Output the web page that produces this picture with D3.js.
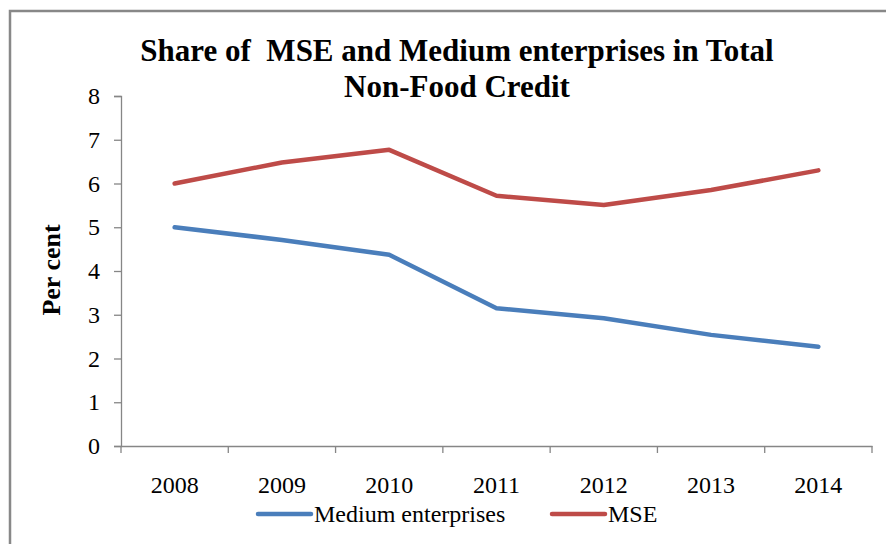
<!DOCTYPE html>
<html>
<head>
<meta charset="utf-8">
<script src="https://cdn.jsdelivr.net/npm/d3@7"></script>
<style>
  body { margin:0; background:#fff; }
  svg text { font-family: "Liberation Serif", "DejaVu Serif", serif; fill:#000; white-space: pre; }
</style>
</head>
<body>
<div id="chart"></div>
<script>
// data
var years = ['2008','2009','2010','2011','2012','2013','2014'];
var medium = [5.00, 4.71, 4.37, 3.15, 2.92, 2.54, 2.27];
var mse = [6.00, 6.48, 6.77, 5.72, 5.51, 5.85, 6.30];
var yTicks = [0,1,2,3,4,5,6,7,8];
var seriesNames = ['Medium enterprises', 'MSE'];
var seriesColors = ['#4a7ebb', '#be4b48'];

var W = 886, H = 544;
var margin = {top:96, right:14, bottom:98, left:121};
var width = W - margin.left - margin.right,
    height = H - margin.top - margin.bottom;

var svg = d3.select('#chart').append('svg')
  .attr('width', W).attr('height', H);

// outer frame
svg.append('path')
  .attr('d', 'M10,' + H + ' V11 H' + W)
  .attr('fill', 'none')
  .attr('stroke', '#888')
  .attr('stroke-width', 2.5);

// title
svg.append('text').attr('x', 457).attr('y', 61)
  .attr('text-anchor', 'middle')
  .style('font-size', '31px').style('font-weight', 'bold')
  .text('Share of  MSE and Medium enterprises in Total');
svg.append('text').attr('x', 457).attr('y', 97)
  .attr('text-anchor', 'middle')
  .style('font-size', '31px').style('font-weight', 'bold')
  .text('Non-Food Credit');

var g = svg.append('g').attr('transform', 'translate(' + margin.left + ',' + margin.top + ')');

var x = d3.scaleBand().domain(years).range([0, width]);
var y = d3.scaleLinear().domain([0, 8]).range([height, 0]);

var yAxis = d3.axisLeft(y).tickValues(yTicks).tickSize(7).tickPadding(14).tickFormat(d3.format('d'));
var xAxis = d3.axisBottom(x).tickSize(0).tickPadding(30);

var ya = g.append('g').attr('class', 'y axis').call(yAxis);
ya.select('.domain').attr('stroke', '#868686').attr('stroke-width', 1.3);
ya.selectAll('.tick line').attr('stroke', '#868686').attr('stroke-width', 1.3);
ya.selectAll('text').style('font-size', '24px').attr('fill', '#000');

var xa = g.append('g').attr('class', 'x axis')
  .attr('transform', 'translate(0,' + height + ')')
  .call(xAxis);
xa.select('.domain').attr('stroke', '#868686').attr('stroke-width', 1.3);
xa.selectAll('text').style('font-size', '24px').attr('fill', '#000');

// category boundary ticks
var edges = years.map(function(d) { return x(d); }).concat([width]);
xa.selectAll('.edge').data(edges).enter().append('line')
  .attr('class', 'edge')
  .attr('x1', function(d) { return d; }).attr('x2', function(d) { return d; })
  .attr('y1', 0).attr('y2', 7)
  .attr('stroke', '#868686').attr('stroke-width', 1.3);

// y label
svg.append('text')
  .attr('transform', 'translate(60,' + 270 + ') rotate(-90)')
  .attr('text-anchor', 'middle')
  .style('font-size', '26px').style('font-weight', 'bold')
  .text('Per cent');

var line = d3.line()
  .x(function(d, i) { return x(years[i]) + x.bandwidth() / 2; })
  .y(function(d) { return y(d); });

[medium, mse].forEach(function(s, i) {
  g.append('path').datum(s)
    .attr('fill', 'none')
    .attr('stroke', seriesColors[i])
    .attr('stroke-width', 4.5)
    .attr('stroke-linejoin', 'round')
    .attr('stroke-linecap', 'round')
    .attr('d', line);
});

// legend
var legend = svg.append('g').attr('transform', 'translate(0,514)');
var lx = [258, 552];
seriesNames.forEach(function(n, i) {
  legend.append('line')
    .attr('x1', lx[i]).attr('x2', lx[i] + 53)
    .attr('y1', 0).attr('y2', 0)
    .attr('stroke', seriesColors[i]).attr('stroke-width', 4.5)
    .attr('stroke-linecap', 'round');
  legend.append('text')
    .attr('x', lx[i] + 56).attr('y', 8)
    .style('font-size', '24px')
    .text(n);
});
</script>
</body>
</html>
